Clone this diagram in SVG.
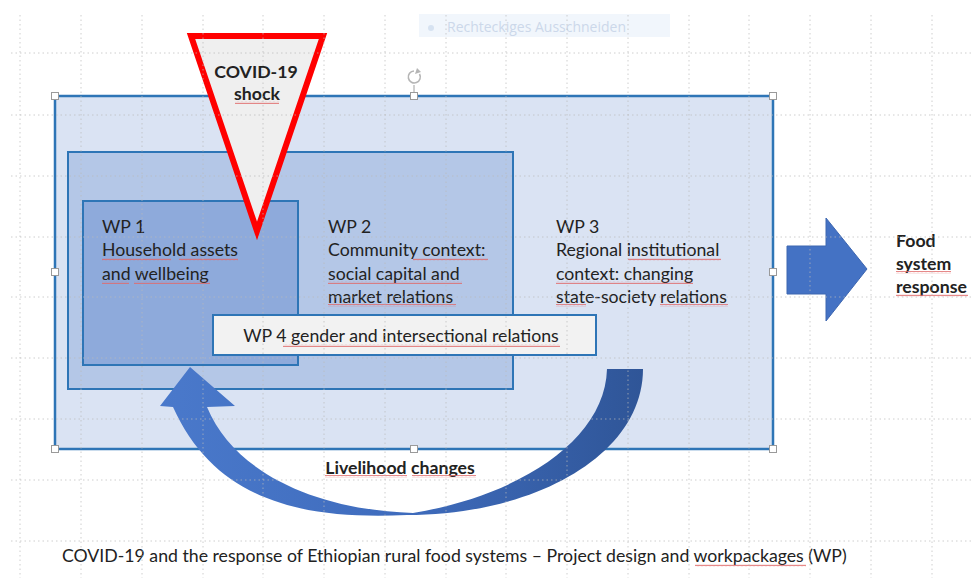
<svg xmlns="http://www.w3.org/2000/svg" width="973" height="578" viewBox="0 0 973 578">
  <defs>
    <style>
      .txt { font-family: Lato, "Liberation Sans", sans-serif; fill: #222; font-size: 17.7px; }
      .bold { font-weight: bold; }
      .box { stroke: #2e75b6; stroke-width: 2; }
      .grid { stroke: #b9b9b9; stroke-width: 1; stroke-dasharray: 1.5 3; fill: none; opacity: 0.7; }
      .squiggle { fill: url(#squiggle); }
      .handle { fill: #fff; stroke: #9a9a9a; stroke-width: 1; }
    </style>
    <pattern id="squiggle" width="4" height="3" patternUnits="userSpaceOnUse">
      <path d="M0,2.2 L1,0.8 L2,2.2 L3,0.8 L4,2.2" fill="none" stroke="#e06a6a" stroke-width="0.8"/>
    </pattern>
    <linearGradient id="curveFill" x1="160" y1="0" x2="645" y2="0" gradientUnits="userSpaceOnUse">
      <stop offset="0" stop-color="#4a79cb"/>
      <stop offset="0.5" stop-color="#3f6cbd"/>
      <stop offset="1" stop-color="#2f5597"/>
    </linearGradient>
  </defs>

  <rect width="973" height="578" fill="#fff"/>

  <!-- floating tooltip strip -->
  <g id="tooltip">
    <rect x="419" y="14" width="251" height="23" fill="#f1f6fc"/>
    <circle cx="431" cy="28" r="3" fill="#d6e2f1"/>
    <text x="447" y="32" font-family="'Open Sans', sans-serif" font-size="14" fill="#ccd8ea" textLength="179" lengthAdjust="spacingAndGlyphs">Rechteckiges Ausschneiden</text>
  </g>

  <!-- WP 3 : outer frame -->
  <g id="wp3">
    <rect x="55" y="96" width="718" height="353" fill="#dae3f3" stroke="#2e75b6" stroke-width="2.5"/>
    <text class="txt" x="556" y="233">WP 3</text>
    <text class="txt" x="556" y="256">Regional institutional</text>
    <text class="txt" x="556" y="280">context: changing</text>
    <text class="txt" x="556" y="303">state-society relations</text>
  </g>

  <!-- WP 2 -->
  <g id="wp2">
    <rect class="box" x="68" y="152" width="445" height="237" fill="#b4c7e7"/>
    <text class="txt" x="328" y="233">WP 2</text>
    <text class="txt" x="328" y="256">Community context:</text>
    <text class="txt" x="328" y="280">social capital and</text>
    <text class="txt" x="328" y="303">market relations</text>
  </g>

  <!-- WP 1 -->
  <g id="wp1">
    <rect class="box" x="83" y="201" width="215" height="164" fill="#8eaadb"/>
    <text class="txt" x="102" y="233">WP 1</text>
    <text class="txt" x="102" y="256">Household assets</text>
    <text class="txt" x="102" y="280">and wellbeing</text>
  </g>

  <!-- WP 4 -->
  <g id="wp4">
    <rect class="box" x="213" y="315" width="383" height="40" fill="#f2f2f2"/>
    <text class="txt" x="401" y="342" text-anchor="middle">WP 4 gender and intersectional relations</text>
  </g>

  <!-- shock wedge -->
  <g id="shock">
    <polygon points="191,36 323,36 257,231" fill="#efefef" stroke="#ff0000" stroke-width="6"/>
    <text class="txt bold" x="256" y="78" text-anchor="middle" font-size="17">COVID-19</text>
    <text class="txt bold" x="257" y="100" text-anchor="middle" font-size="17">shock</text>
  </g>

  <g id="connectors">
    <!-- block arrow to food system response -->
    <polygon id="arrow-response" points="787,246 826,246 826,218 867,269 826,321 826,294 787,294" fill="#4472c4" stroke="#3d66b0" stroke-width="1"/>
    <!-- curved feedback arrow -->
    <path id="arrow-livelihood" d="M190,367 L235,406 L207,407 C235,475 320,510 413,513 C520,495 605,440 607,369 L643,369 C643,455 535,515 407,515 C300,520 215,500 173,407 L160,406 Z" fill="url(#curveFill)"/>
  </g>

  <g id="food-response">
    <text class="txt bold" x="896" y="247">Food</text>
    <text class="txt bold" x="896" y="270">system</text>
    <text class="txt bold" x="896" y="293">response</text>
  </g>

  <g id="livelihood-label">
    <text class="txt bold" x="400" y="474" text-anchor="middle">Livelihood changes</text>
  </g>

  <g id="caption">
    <text class="txt" x="62" y="562" font-size="17.8">COVID-19 and the response of Ethiopian rural food systems – Project design and workpackages (WP)</text>
  </g>

  <!-- spelling marks under words -->
  <g id="spelling">
    <rect class="squiggle" x="235" y="101" width="44" height="3"/>
    <rect class="squiggle" x="102" y="258" width="69" height="3"/>
    <rect class="squiggle" x="179" y="258" width="59" height="3"/>
    <rect class="squiggle" x="102" y="281" width="27" height="3"/>
    <rect class="squiggle" x="134" y="281" width="76" height="3"/>
    <rect class="squiggle" x="413" y="258" width="75" height="3"/>
    <rect class="squiggle" x="328" y="281" width="134" height="3"/>
    <rect class="squiggle" x="328" y="304" width="128" height="3"/>
    <rect class="squiggle" x="628" y="258" width="93" height="3"/>
    <rect class="squiggle" x="556" y="281" width="137" height="3"/>
    <rect class="squiggle" x="556" y="304" width="30" height="3"/>
    <rect class="squiggle" x="660" y="304" width="68" height="3"/>
    <rect class="squiggle" x="896" y="271" width="55" height="3"/>
    <rect class="squiggle" x="896" y="294" width="72" height="3"/>
    <rect class="squiggle" x="283" y="344" width="277" height="3"/>
    <rect class="squiggle" x="325" y="475" width="82" height="3"/>
    <rect class="squiggle" x="412" y="475" width="64" height="3"/>
    <rect class="squiggle" x="695" y="564" width="111" height="3"/>
  </g>

  <!-- drawing grid -->
  <path class="grid" d="M20,15V578 M81,15V578 M142,15V578 M203,15V578 M263,15V578 M324,15V578 M385,15V578 M446,15V578 M506,15V578 M567,15V578 M628,15V578 M689,15V578 M749,15V578 M810,15V578 M871,15V578 M932,15V578"/>
  <path class="grid" d="M11,53H973 M11,115H973 M11,176H973 M11,237H973 M11,297H973 M11,358H973 M11,419H973 M11,480H973 M11,541H973"/>

  <!-- selection frame with handles -->
  <g id="selection">
    <path d="M414,85V96" stroke="#a0a0a0" stroke-width="1"/>
    <path d="M419.5,74 A6,6 0 1 1 414,71" fill="none" stroke="#b5b5b5" stroke-width="1.6"/>
    <path d="M417,68 L421,72 L415,74 Z" fill="#b5b5b5"/>
    <rect class="handle" x="51.5" y="92.5" width="7" height="7"/>
    <rect class="handle" x="410.5" y="92.5" width="7" height="7"/>
    <rect class="handle" x="769.5" y="92.5" width="7" height="7"/>
    <rect class="handle" x="51.5" y="268.5" width="7" height="7"/>
    <rect class="handle" x="769.5" y="268.5" width="7" height="7"/>
    <rect class="handle" x="51.5" y="445.5" width="7" height="7"/>
    <rect class="handle" x="410.5" y="445.5" width="7" height="7"/>
    <rect class="handle" x="769.5" y="445.5" width="7" height="7"/>
  </g>
</svg>
